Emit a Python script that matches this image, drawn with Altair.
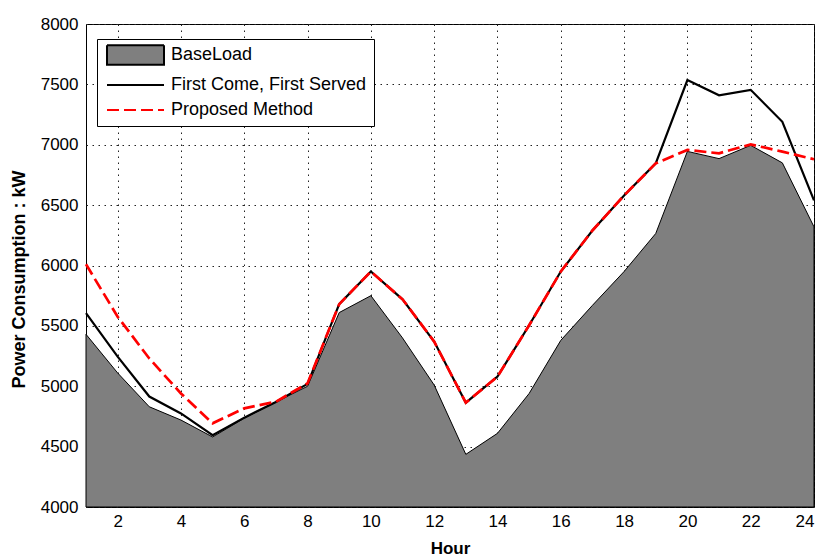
import altair as alt
import pandas as pd

hours = list(range(1, 25))
baseload = [5430, 5110, 4830, 4720, 4580, 4735, 4870, 5000, 5610, 5750, 5400, 5010,
            4436, 4610, 4940, 5380, 5670, 5950, 6265, 6945, 6885, 6995, 6850, 6320]
fcfs = [5605, 5245, 4915, 4775, 4595, 4740, 4870, 5020, 5680, 5950, 5720, 5370,
        4864, 5080, 5505, 5950, 6290, 6580, 6846, 7536, 7410, 7455, 7190, 6540]
proposed = [6010, 5576, 5230, 4940, 4693, 4817, 4872, 5024, 5680, 5950, 5720, 5370,
            4864, 5080, 5505, 5950, 6290, 6580, 6846, 6957, 6929, 7003, 6943, 6880]

series_names = ["BaseLoad", "First Come, First Served", "Proposed Method"]
x_ticks = list(range(2, 25, 2))
y_ticks = list(range(4000, 8001, 500))

base_df = pd.DataFrame({"hour": hours, "value": baseload})
fcfs_df = pd.DataFrame({"hour": hours, "value": fcfs, "series": series_names[1]})
prop_df = pd.DataFrame({"hour": hours, "value": proposed, "series": series_names[2]})

FONT = "Liberation Sans"
GRAY = "#7f7f7f"

x_enc = alt.X("hour:Q",
              scale=alt.Scale(domain=[1, 24], nice=False),
              axis=alt.Axis(values=x_ticks, title="Hour", titleFontWeight="bold",
                            titleFontSize=17, titleY=46, titleBaseline="alphabetic",
                            labelPadding=6, format="d"))
y_enc = alt.Y("value:Q",
              scale=alt.Scale(domain=[4000, 8000], nice=False, zero=False),
              axis=alt.Axis(values=y_ticks, title="Power Consumption : kW",
                            titleFontWeight="bold", titleFontSize=18,
                            titleX=-58, titleY=255, labelPadding=8, format="d"))

color_scale = alt.Scale(domain=series_names, range=["#000000", "#000000", "#ff0000"])

area = alt.Chart(base_df).mark_area(
    fill=GRAY, stroke="black", strokeWidth=1, fillOpacity=1
).encode(x=x_enc, y=y_enc, y2=alt.datum(4000))

legend = alt.Legend(
    title=None, orient="none", legendX=11, legendY=15,
    padding=7, symbolSize=100, symbolOffset=3,
    labelOffset=46, rowPadding=7, labelFontSize=18,
    labelFont=FONT, labelColor="black", labelLimit=400,
    strokeColor="black", fillColor="white", cornerRadius=0,
    symbolOpacity=1, symbolStrokeWidth=2,
    symbolType=alt.ExprRef(expr="datum.value === 'BaseLoad' ? 'M-1.8,-1.95H9.6V1.95H-1.8Z' : 'M-1.8,0H9.6'"),
    symbolFillColor=alt.ExprRef(expr="datum.value === 'BaseLoad' ? '" + GRAY + "' : 'transparent'"),
    symbolDash=alt.ExprRef(expr="datum.value === 'Proposed Method' ? [12, 5] : [1, 0]"),
)

fcfs_line = alt.Chart(fcfs_df).mark_line(strokeWidth=2.2).encode(
    x=x_enc, y=y_enc,
    color=alt.Color("series:N", scale=color_scale, legend=legend),
)

prop_line = alt.Chart(prop_df).mark_line(strokeWidth=2.7, strokeDash=[12, 5]).encode(
    x=x_enc, y=y_enc,
    color=alt.Color("series:N", scale=color_scale, legend=None),
)

chart = alt.layer(area, fcfs_line, prop_line).properties(
    width=728, height=483,
    autosize=alt.AutoSizeParams(type="none"),
    padding={"left": 86, "top": 24, "right": 9, "bottom": 50},
    background="white",
).configure_view(
    stroke="black", strokeWidth=1
).configure_axis(
    labelFont=FONT, titleFont=FONT, labelFontSize=17, labelColor="black",
    titleColor="black", domain=False, ticks=False,
    grid=True, gridColor="#222222", gridDash=[1.5, 4.5], gridWidth=1, gridOpacity=1,
)

chart.save("out.html", embed_options={"renderer": "svg", "actions": False})
